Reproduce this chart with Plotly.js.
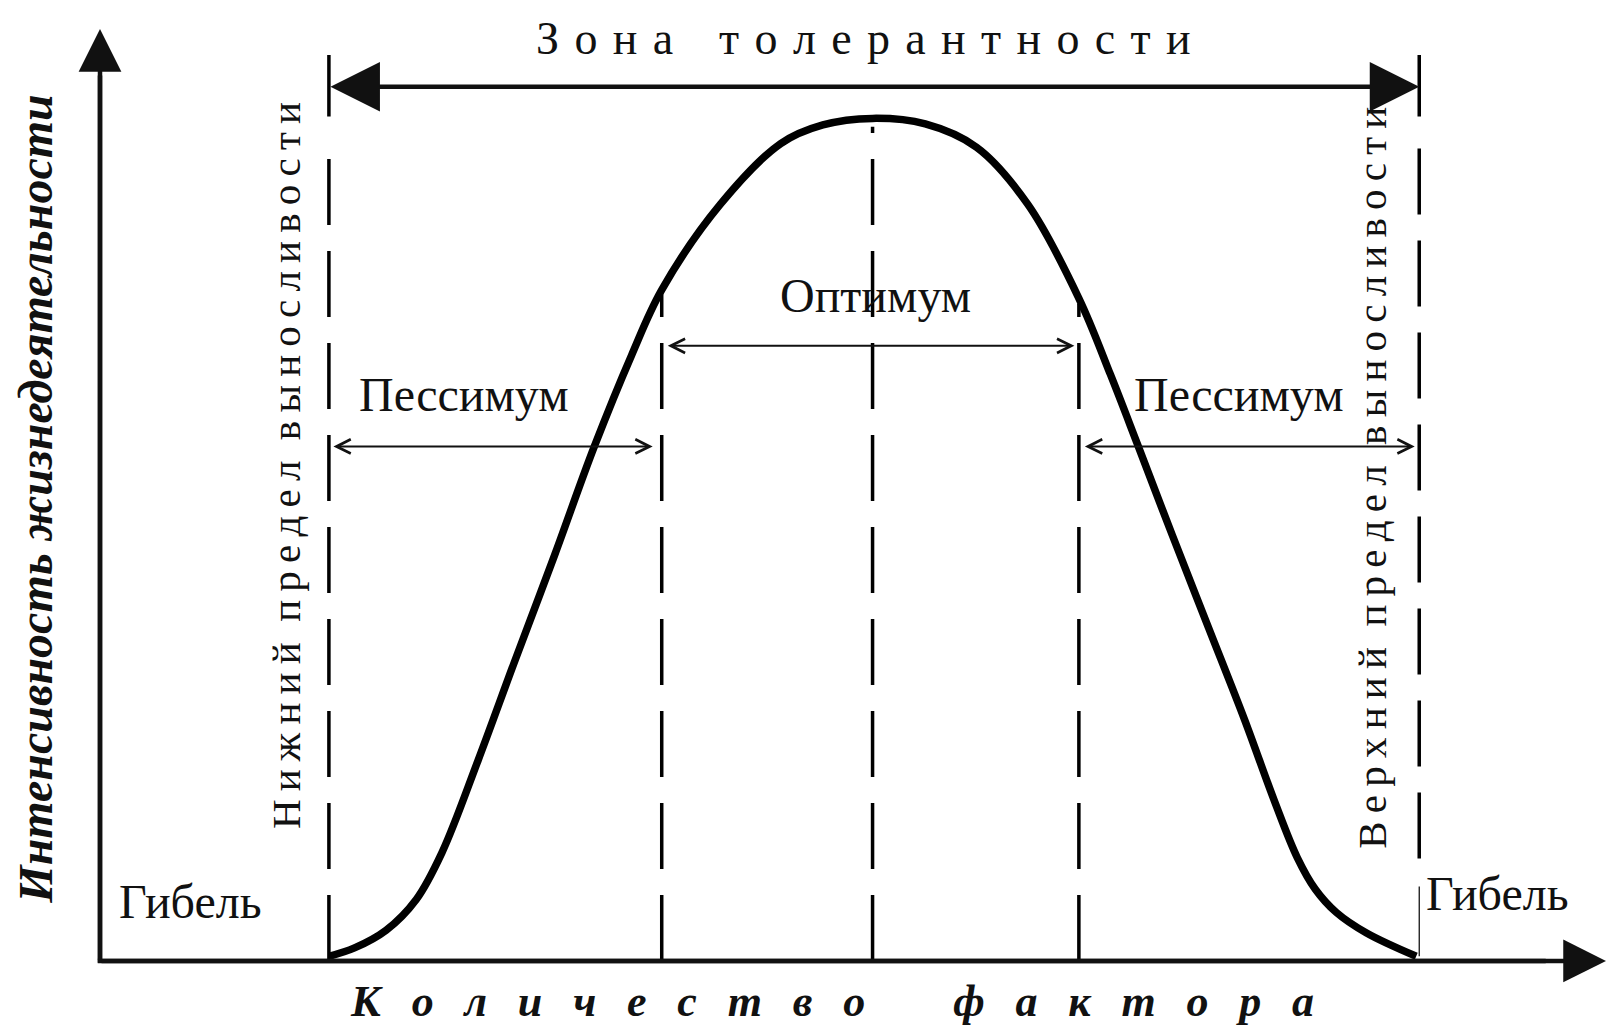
<!DOCTYPE html>
<html>
<head>
<meta charset="utf-8">
<script src="https://cdn.plot.ly/plotly-3.0.1.min.js"></script>
<style>
  html, body { margin: 0; padding: 0; background: #fff; }
  #chart { width: 1612px; height: 1028px; }
</style>
</head>
<body>
<div id="chart"></div>
<script>
// tolerance curve: amount of factor (x) vs intensity of life activity (y), units 0..100
const factor   = [15.2, 16.9, 19.0, 21.0, 22.7, 25.1, 27.5, 30.2, 32.8, 35.3, 37.3, 41.2, 45.2, 48.0, 51.3,
                  54.8, 58.2, 61.6, 65.0, 67.1, 68.9, 71.2, 73.6, 76.0, 78.0, 79.5, 80.7, 82.1, 84.1, 87.4];
const activity = [0.5, 1.4, 3.3, 6.6, 11.6, 21.5, 32.0, 43.6, 55.1, 65.0, 72.0, 81.2, 87.7, 89.7, 90.4,
                  89.8, 87.3, 81.2, 71.1, 62.9, 55.4, 45.7, 35.8, 25.9, 17.1, 11.1, 7.7, 5.2, 3.0, 0.5];

// zone borders on the factor axis: lower limit, optimum left, optimum centre, optimum right, upper limit
const borders    = [15.2, 37.3, 51.3, 65.0, 87.6];
const borderFrom = [0, 0, 0, 0, 11];
const borderTo   = [88.5, 71.5, 89.5, 70.5, 88.5];

// arrow levels
const zoneLevel = 93.8;
const optimumLevel = 66.0;
const pessimumLevel = 55.2;

// texts
const zoneText = "Зона толерантности";
const optimumText = "Оптимум";
const pessimumText = "Пессимум";
const deathText = "Гибель";
const lowerText = "Нижний предел выносливости";
const upperText = "Верхний предел выносливости";
const xTitle = "Количество фактора";
const yTitle = "Интенсивность жизнедеятельности";

const serif = "Liberation Serif, Times New Roman, serif";
const ink = "#111";

function spread(text, gap, wordGap) {
    return text.split(" ").map(w => [...w].join(gap)).join(wordGap);
}

function arrow(x0, y0, x1, y1, o) {
    return Object.assign({
        x: x1, y: y1, ax: x0, ay: y0,
        xref: "x", yref: "y", axref: "x", ayref: "y",
        text: "", showarrow: true, arrowcolor: ink,
        standoff: 0, startstandoff: 0
    }, o);
}

function label(text, x, y, size, extra) {
    return Object.assign({
        text: text, x: x, y: y, xref: "x", yref: "y",
        showarrow: false, xanchor: "center", yanchor: "middle",
        font: {family: serif, size: size, color: ink}
    }, extra || {});
}

// Define Data
const plotData = [{
    x: factor,
    y: activity,
    mode: "lines",
    type: "scatter",
    line: {color: "#000", width: 7.5, shape: "spline", smoothing: 1.0},
    hoverinfo: "skip",
    cliponaxis: false
}];

// dashed border lines and end bars of the tolerance arrow
const shapes = borders.map((b, i) => ({
    type: "line", xref: "x", yref: "y",
    x0: b, x1: b, y0: borderFrom[i], y1: borderTo[i],
    line: {color: "#000", width: 3.5, dash: "66px,26px"}
}));
[borders[0], borders[4]].forEach(b => shapes.push({
    type: "line", xref: "x", yref: "y",
    x0: b, x1: b, y0: 90.6, y1: 97.2,
    line: {color: "#000", width: 3.5}
}));
shapes.push({
    type: "line", xref: "x", yref: "y",
    x0: borders[4], x1: borders[4], y0: 0.5, y1: 8,
    line: {color: "#000", width: 1.2}
});
// axis lines (heads drawn by annotations)
shapes.push({type: "line", xref: "x", yref: "y", x0: 0, x1: 0, y0: -0.2, y1: 95,
             line: {color: ink, width: 4.5}});
shapes.push({type: "line", xref: "x", yref: "y", x0: -0.15, x1: 96, y0: 0, y1: 0,
             line: {color: ink, width: 4.5}});

const thin = {arrowhead: 5, arrowsize: 1.4, arrowwidth: 2, startarrowhead: 5, startarrowsize: 1.4, arrowside: "end+start"};

const annotations = [
    // axes
    arrow(0, 0, 0, 100, {arrowhead: 2, arrowsize: 1.9, arrowwidth: 4.5}),
    arrow(0, 0, 100, 0, {arrowhead: 2, arrowsize: 1.9, arrowwidth: 4.5}),
    // zone of tolerance
    arrow(borders[0], zoneLevel, borders[4], zoneLevel,
          {arrowhead: 2, arrowsize: 2.2, arrowwidth: 4.5, startarrowhead: 2, startarrowsize: 2.2, arrowside: "end+start"}),
    // optimum and pessimum ranges
    arrow(borders[1] + 0.3, optimumLevel, borders[3] - 0.3, optimumLevel, thin),
    arrow(borders[0] + 0.2, pessimumLevel, borders[1] - 0.6, pessimumLevel, thin),
    arrow(borders[3] + 0.3, pessimumLevel, borders[4] - 0.3, pessimumLevel, thin),

    label(spread(zoneText, "\u2004", "\u2003"), 50.7, 99.0, 46),
    label(optimumText, 51.5, 71.4, 48),
    label(pessimumText, 24.2, 60.8, 48),
    label(pessimumText, 75.6, 60.8, 48),
    label(deathText, 6.0, 6.4, 48),
    label(deathText, 92.8, 7.2, 48),
    label(spread(lowerText, "\u2009", "\u2002"), 12.35, 53.2, 41, {textangle: -90}),
    label(spread(upperText, "\u2009", "\u2002"), 84.5, 51.8, 41, {textangle: -90}),
    label(spread(xTitle, "\u2002\u2009", "\u2003\u2003"), 48.6, -4.4, 44,
          {font: {family: serif, size: 44, color: ink, weight: "bold", style: "italic"}}),
    label(yTitle, -4.25, 49.6, 48,
          {textangle: -90, font: {family: serif, size: 48, color: ink, weight: "bold", style: "italic"}})
];

// Define Layout
const layout = {
    width: 1612,
    height: 1028,
    margin: {t: 0, r: 0, b: 0, l: 0},
    paper_bgcolor: "#fff",
    plot_bgcolor: "#fff",
    showlegend: false,
    xaxis: {range: [-6.64, 100.4], visible: false, fixedrange: true},
    yaxis: {range: [-7.19, 103.1], visible: false, fixedrange: true},
    shapes: shapes,
    annotations: annotations
};

const config = {staticPlot: true, displayModeBar: false};

// Display using Plotly
Plotly.newPlot("chart", plotData, layout, config);
</script>
</body>
</html>
